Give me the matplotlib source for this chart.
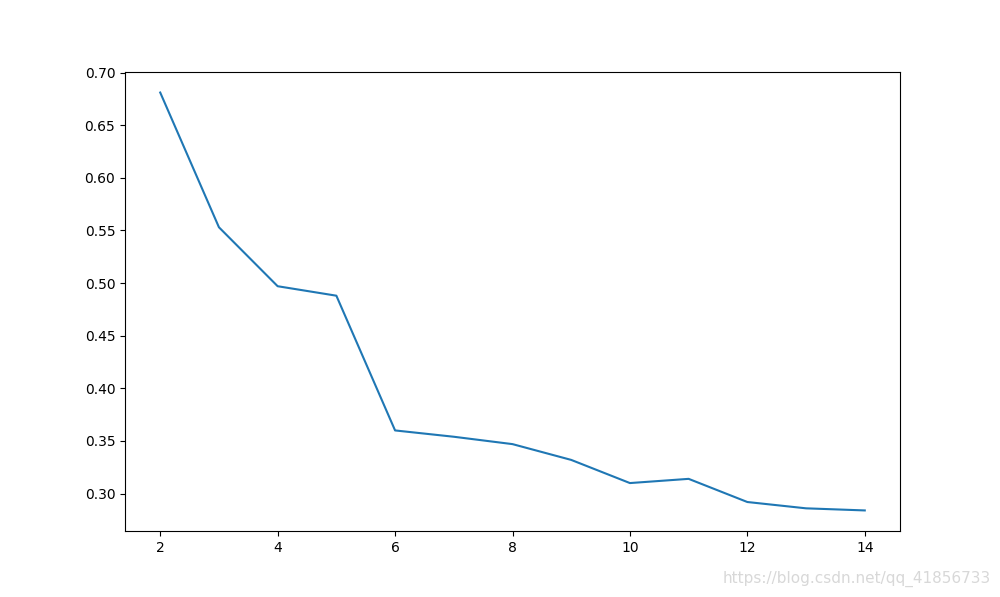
import matplotlib
matplotlib.use("Agg")
import matplotlib.pyplot as plt

# number of clusters vs score
k_values = [2, 3, 4, 5, 6, 7, 8, 9, 10, 11, 12, 13, 14]
scores = [0.681, 0.553, 0.497, 0.488, 0.360, 0.354, 0.347, 0.332,
          0.310, 0.314, 0.292, 0.286, 0.284]

fig = plt.figure(figsize=(10, 5.97), dpi=100)
ax = fig.add_subplot(111)
ax.plot(k_values, scores, color='#1f77b4')
ax.set_yticks([0.30, 0.35, 0.40, 0.45, 0.50, 0.55, 0.60, 0.65, 0.70])

# csdn watermark
fig.text(0.991, 0.03, 'https://blog.csdn.net/qq_41856733', ha='right', va='center',
         color='#d8d8d8', fontsize=11)

fig.savefig('out.png', dpi=100)
